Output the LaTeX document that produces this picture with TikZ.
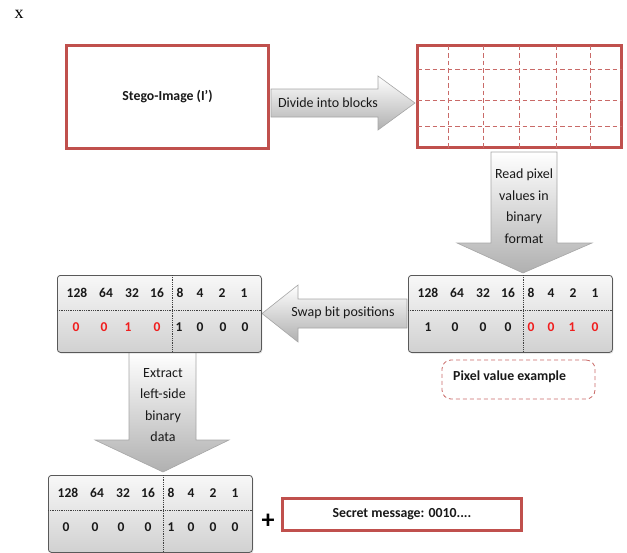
\documentclass[tikz,border=0pt]{standalone}
\usepackage{fontspec}
\setmainfont{Carlito}
\newfontfamily\seriffont{Liberation Serif}
\usetikzlibrary{shadows}
\definecolor{boxred}{RGB}{192,80,77}
\definecolor{digitred}{RGB}{240,30,30}
\definecolor{ink}{RGB}{25,25,25}

\tikzset{
  redbox/.style={draw=boxred, line width=2.6pt, fill=white, inner sep=0pt},
  gridline/.style={draw=boxred!85, line width=0.9pt, dash pattern=on 4.5pt off 3pt},
  hintbox/.style={draw=boxred!85, line width=0.8pt, dash pattern=on 4pt off 3pt,
    rounded corners=9pt},
  blockarrow/.style={draw=gray!70, line width=0.6pt, top color=white, bottom color=gray!62},
  arrowtext/.style={inner sep=0pt, align=center, text=ink,
    font=\fontsize{14}{21.5}\selectfont},
  boldtext/.style={inner sep=0pt, text=ink, font=\fontsize{13.8}{16}\selectfont\bfseries},
  tablebox/.style={draw=black!65, line width=0.8pt, rounded corners=3pt,
    top color=gray!6, bottom color=gray!36, minimum width=204pt, minimum height=77pt,
    inner sep=0pt, drop shadow={opacity=0.25, shadow xshift=1pt, shadow yshift=-1.2pt}},
  divider/.style={densely dotted, line width=0.8pt, draw=black!75},
  digit/.style={inner sep=0pt, text=ink, font=\fontsize{13.5}{13.5}\selectfont\bfseries},
  bittable/.pic={
    \node[tablebox, anchor=north west] (-box) at (0,0) {};
    \draw[divider] (0,35) -- (204,35);
    \draw[divider] (115,0) -- (115,77);
    \foreach \v/\x [count=\i] in {128/20,64/49,32/75,16/100,8/123,4/143,2/165,1/187}
      \node[digit] (-w\i) at (\x,18) {\v};
    \foreach \x/\d/\c [count=\i] in {#1}
      \node[digit, text=\c] (-b\i) at (\x,52) {\d};
  }
}

\begin{document}
\begin{tikzpicture}[x=1pt, y=-1pt]
\useasboundingbox (0,0) rectangle (627,552);

% corner mark
\node[inner sep=0pt, font=\seriffont\fontsize{18}{18}\selectfont] (mark) at (19,14) {x};

% stego image and its block grid
\node[redbox, minimum width=202pt, minimum height=103pt] (stego) at (167.5,97)
  {\fontsize{13.8}{16}\selectfont\bfseries\color{ink}Stego-Image (I’)};
\node[redbox, minimum width=204pt, minimum height=102pt] (grid) at (519.5,96.5) {};
\foreach \x in {448,483,519,556,590}
  \draw[gridline] (\x,45.5) -- (\x,147.5);
\foreach \y in {69,100,126}
  \draw[gridline] (417.5,\y) -- (621.5,\y);

% block arrows
\draw[blockarrow] (271,89) -- (378,89) -- (378,76) -- (415,103) -- (378,130)
  -- (378,117) -- (271,117) -- cycle;
\node[arrowtext] (lbl-divide) at (328,103) {Divide into blocks};

\draw[blockarrow] (491,152) -- (557,152) -- (557,243) -- (592,243) -- (523,273)
  -- (457,243) -- (491,243) -- cycle;
\node[arrowtext] (lbl-read) at (524,206) {Read pixel\\values in\\binary\\format};

\draw[blockarrow] (407,299) -- (298,299) -- (298,285) -- (262,313.5) -- (298,342)
  -- (298,328) -- (407,328) -- cycle;
\node[arrowtext] (lbl-swap) at (343,313) {Swap bit positions};

\draw[blockarrow] (129,352) -- (196,352) -- (196,440) -- (229,440) -- (163,472)
  -- (95,440) -- (129,440) -- cycle;
\node[arrowtext] (lbl-extract) at (163,405) {Extract\\left-side\\binary\\data};

% bit tables
\pic (rt) at (408,275) {bittable={20/1/ink,47/0/ink,75/0/ink,100/0/ink,
  123/0/digitred,143/0/digitred,164/1/digitred,187/0/digitred}};
\pic (lt) at (57,275) {bittable={19/0/digitred,47/0/digitred,71/1/digitred,100/0/digitred,
  122/1/ink,143/0/ink,166/0/ink,188/0/ink}};
\pic (bt) at (48,475) {bittable={18/0/ink,47/0/ink,73/0/ink,100/0/ink,
  123/1/ink,143/0/ink,165/0/ink,187/0/ink}};

% example caption
\node[hintbox, minimum width=153pt, minimum height=39pt] (hint) at (518.5,379.5) {};
\node[boldtext, anchor=west] (hint-text) at (453,377) {Pixel value example};

% recovered message
\node[inner sep=0pt, text=black, font=\fontsize{26}{26}\selectfont\bfseries] (plus) at (268,521) {+};
\node[redbox, minimum width=239pt, minimum height=32pt] (secret) at (402,514.5)
  {\fontsize{13.8}{16}\selectfont\bfseries\color{ink}Secret message: 0010....};
\end{tikzpicture}
\end{document}
